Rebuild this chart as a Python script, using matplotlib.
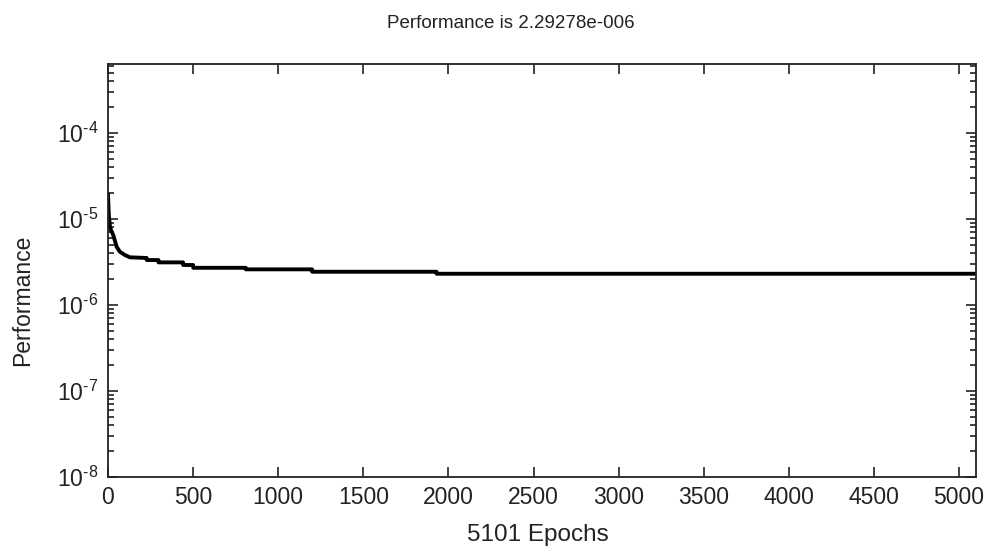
import numpy as np
import matplotlib
matplotlib.use("Agg")
import matplotlib.pyplot as plt
from matplotlib.ticker import LogLocator, NullFormatter, FuncFormatter

plt.rcParams['font.family'] = ['Liberation Sans', 'DejaVu Sans']
plt.rcParams['mathtext.fontset'] = 'custom'
plt.rcParams['mathtext.rm'] = 'Liberation Sans'
plt.rcParams['mathtext.default'] = 'regular'

# training curve (epoch, performance)
epochs = [0, 5, 12, 20, 31, 51, 70, 100, 129, 227, 228, 296, 297, 441, 442,
          500, 501, 809, 810, 1199, 1200, 1930, 1931, 5101]
perf = [1.9e-5, 1.1e-5, 8.0e-6, 7.2e-6, 6.45e-6, 4.72e-6, 4.13e-6, 3.78e-6,
        3.56e-6, 3.5e-6, 3.31e-6, 3.31e-6, 3.11e-6, 3.11e-6, 2.90e-6,
        2.90e-6, 2.69e-6, 2.69e-6, 2.58e-6, 2.58e-6, 2.42e-6, 2.42e-6,
        2.29278e-6, 2.29278e-6]
xticks = [0, 500, 1000, 1500, 2000, 2500, 3000, 3500, 4000, 4500, 5000]


def pow_label(v, pos):
    # matlab style exponent with a plain hyphen
    e = int(round(np.log10(v)))
    return r'$10^{\text{-}%d}$' % abs(e) if e < 0 else r'$10^{%d}$' % e


fig = plt.figure(figsize=(9.88, 5.5), dpi=100)
ax = fig.add_axes([0.1093, 0.1333, 0.8786, 0.7503])
ax.plot(epochs, perf, color='black', linewidth=2.8)
ax.set_yscale('log')
ax.set_xlim(0, 5100)
ax.set_ylim(1e-8, 10**-3.2)
ax.set_xticks(xticks)
ax.yaxis.set_major_locator(LogLocator(base=10, numticks=10))
ax.yaxis.set_major_formatter(FuncFormatter(pow_label))
ax.yaxis.set_minor_locator(LogLocator(base=10, subs=np.arange(2, 10), numticks=20))
ax.yaxis.set_minor_formatter(NullFormatter())
ax.tick_params(which='both', direction='in', top=True, right=True,
               labelsize=16.5, width=1.2, colors='#222222')
ax.tick_params(axis='x', pad=7)
ax.tick_params(axis='y', pad=7)
ax.tick_params(which='major', length=7)
ax.tick_params(which='minor', length=4.5)
for s in ax.spines.values():
    s.set_linewidth(1.3)
    s.set_color('#222222')

fig.text(511 / 988, 1 - 28 / 550, 'Performance is 2.29278e-006',
         ha='center', va='baseline', fontsize=13.5, color='#222222')
fig.text(538 / 988, 1 - 541 / 550, '5101 Epochs', ha='center', va='baseline',
         fontsize=17.5, color='#222222')
fig.text(23 / 988, 1 - 300 / 550, 'Performance', ha='center', va='center',
         rotation=90, fontsize=16.5, color='#222222')

fig.savefig('out.png', dpi=100, facecolor='white')
